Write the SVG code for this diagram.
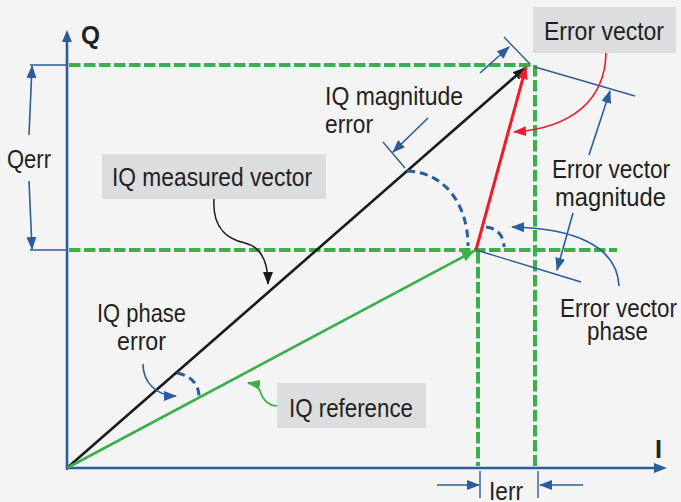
<svg xmlns="http://www.w3.org/2000/svg" width="681" height="502" viewBox="0 0 681 502">
<defs>
<style>
.t{font-family:"Liberation Sans",Arial,sans-serif;font-size:26px;fill:#231f20}
.b{font-weight:bold}
.box{fill:#dcdddf}
.gd{stroke:#3cae4c;stroke-width:4;stroke-dasharray:11.5 3.5;fill:none}
.bd{stroke:#2b5c9c;stroke-width:3;stroke-dasharray:8 5;fill:none}
.bl{stroke:#2b5c9c;stroke-width:1.4;fill:none}
.ba{stroke:#2b5c9c;stroke-width:1.6;fill:none;marker-end:url(#ab)}
</style>
<marker id="ab" markerWidth="13" markerHeight="10" refX="12" refY="5" orient="auto" markerUnits="userSpaceOnUse"><path d="M0,0 L13,5 L0,10 z" fill="#2b5c9c"/></marker>
<marker id="ak" markerWidth="13" markerHeight="10" refX="12" refY="5" orient="auto" markerUnits="userSpaceOnUse"><path d="M0,0 L13,5 L0,10 z" fill="#1a1a1a"/></marker>
<marker id="ag" markerWidth="13" markerHeight="10" refX="12" refY="5" orient="auto" markerUnits="userSpaceOnUse"><path d="M0,0 L13,5 L0,10 z" fill="#3cae4c"/></marker>
<marker id="ar" markerWidth="13" markerHeight="10" refX="12" refY="5" orient="auto" markerUnits="userSpaceOnUse"><path d="M0,0 L13,5 L0,10 z" fill="#ec1c2e"/></marker>
</defs>
<rect width="681" height="502" fill="#f4f4f4"/>

<g id="grid">
<path class="gd" d="M69,65 H533"/>
<path class="gd" d="M69,250 H617"/>
<path class="gd" d="M535,65 V466"/>
<path class="gd" d="M478,252 V466"/>
</g>

<g id="axes">
<path d="M67,470 V40" stroke="#2b5c9c" stroke-width="2.6" fill="none"/>
<path d="M62,42 L67,30 L72,42 z" fill="#2b5c9c"/>
<path d="M66,468 H655" stroke="#2b5c9c" stroke-width="2.6" fill="none"/>
<path d="M654,463 L667,468 L654,473 z" fill="#2b5c9c"/>
<text class="t b" x="81" y="44" font-size="33" textLength="19" lengthAdjust="spacingAndGlyphs">Q</text>
<text class="t b" x="655" y="458" font-size="34" textLength="7" lengthAdjust="spacingAndGlyphs">I</text>
</g>

<g id="vectors">
<path d="M67,468 L525,68" stroke="#1a1a1a" stroke-width="2.6" fill="none" marker-end="url(#ak)"/>
<path d="M67,468 L474,251" stroke="#3cae4c" stroke-width="2.6" fill="none" marker-end="url(#ag)"/>
<path d="M476,250 L526,67" stroke="#ec1c2e" stroke-width="3" fill="none" marker-end="url(#ar)"/>
</g>

<g id="connectors">
<path class="bl" d="M535,67 L635,96"/>
<path class="bl" d="M476,250 L581,282"/>
<path class="ba" d="M589,155 L610,91"/>
<path class="ba" d="M573,213 L557,270"/>
<path class="bl" d="M504,37 L530,64"/>
<path class="bl" d="M383,142 L405,168"/>
<path class="ba" d="M480,73 L509,47"/>
<path class="ba" d="M428,118 L393,152"/>
<path class="bd" d="M407,171 C445,172 468,205 468,246"/>
<path class="bd" d="M486,227 C498,228 504,237 504,247"/>
<path class="bd" d="M177,373 C192,376 199,385 199,397"/>
<path class="ba" d="M143,364 C143,382 156,396 176,396"/>
<path class="ba" d="M619,286 C617,245 572,228 512,227"/>
<path d="M606,53 C605,100 572,128 514,132" stroke="#ec1c2e" stroke-width="1.6" fill="none" marker-end="url(#ar)"/>
<path d="M214,199 C212,230 230,240 245,243 C262,247 268,262 268,284" stroke="#1a1a1a" stroke-width="1.5" fill="none" marker-end="url(#ak)"/>
<path d="M278,406 C266,406 262,397 260,391 C258,386 255,384 248,383" stroke="#3cae4c" stroke-width="1.8" fill="none" marker-end="url(#ag)"/>
<path class="bl" d="M30,65 H67"/>
<path class="bl" d="M30,250 H67"/>
<path class="ba" d="M29,135 L32,66"/>
<path class="ba" d="M29,181 L32,249"/>
<path class="bl" d="M480,471 V498"/>
<path class="bl" d="M538,471 V498"/>
<path class="ba" d="M437,485 L479,485"/>
<path class="ba" d="M583,485 L540,485"/>
</g>

<g id="n-measured">
<rect class="box" x="102" y="154" width="224" height="45"/>
<text class="t" x="112" y="186" textLength="200" lengthAdjust="spacingAndGlyphs">IQ measured vector</text>
</g>
<g id="n-error-vector">
<rect class="box" x="533" y="7" width="143" height="46"/>
<text class="t" x="544" y="40" textLength="120" lengthAdjust="spacingAndGlyphs">Error vector</text>
</g>
<g id="n-reference">
<rect class="box" x="277" y="383" width="149" height="45"/>
<text class="t" x="289" y="417" textLength="124" lengthAdjust="spacingAndGlyphs">IQ reference</text>
</g>
<g id="n-mag-error">
<text class="t" x="325" y="105" textLength="138" lengthAdjust="spacingAndGlyphs">IQ magnitude</text>
<text class="t" x="325" y="133" textLength="48" lengthAdjust="spacingAndGlyphs">error</text>
</g>
<g id="n-ev-mag">
<text class="t" x="552" y="178" textLength="118" lengthAdjust="spacingAndGlyphs">Error vector</text>
<text class="t" x="555" y="206" textLength="111" lengthAdjust="spacingAndGlyphs">magnitude</text>
</g>
<g id="n-ev-phase">
<text class="t" x="560" y="317" textLength="117" lengthAdjust="spacingAndGlyphs">Error vector</text>
<text class="t" x="587" y="340" textLength="61" lengthAdjust="spacingAndGlyphs">phase</text>
</g>
<g id="n-phase-error">
<text class="t" x="97" y="322" textLength="89" lengthAdjust="spacingAndGlyphs">IQ phase</text>
<text class="t" x="117" y="350" textLength="49" lengthAdjust="spacingAndGlyphs">error</text>
</g>
<g id="n-qerr">
<text class="t" x="7" y="168" textLength="44" lengthAdjust="spacingAndGlyphs">Qerr</text>
</g>
<g id="n-ierr">
<text class="t" x="489" y="500" textLength="34" lengthAdjust="spacingAndGlyphs">Ierr</text>
</g>
</svg>
